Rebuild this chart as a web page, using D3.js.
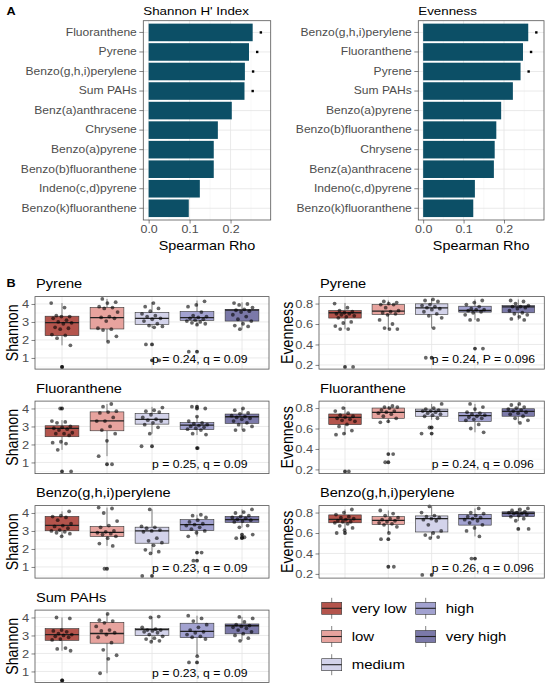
<!DOCTYPE html>
<html>
<head>
<meta charset="utf-8">
<script src="https://cdn.jsdelivr.net/npm/d3@7"></script>
<style>
  body { margin: 0; background: #fff; }
  svg { display: block; }
</style>
</head>
<body>
<div id="chart"></div>
<script>
// ---- panel A: Spearman rho per PAH ----
const pahShannon = ["Fluoranthene", "Pyrene", "Benzo(g,h,i)perylene", "Sum PAHs", "Benz(a)anthracene",
  "Chrysene", "Benzo(a)pyrene", "Benzo(b)fluoranthene", "Indeno(c,d)pyrene", "Benzo(k)fluoranthene"];
const rhoShannon = [0.254, 0.245, 0.235, 0.234, 0.203, 0.169, 0.159, 0.159, 0.125, 0.098];
const sigShannon = [1, 1, 1, 1, 0, 0, 0, 0, 0, 0];

const pahEvenness = ["Benzo(g,h,i)perylene", "Fluoranthene", "Pyrene", "Sum PAHs", "Benzo(a)pyrene",
  "Benzo(b)fluoranthene", "Chrysene", "Benz(a)anthracene", "Indeno(c,d)pyrene", "Benzo(k)fluoranthene"];
const rhoEvenness = [0.260, 0.247, 0.241, 0.222, 0.193, 0.181, 0.177, 0.175, 0.128, 0.124];
const sigEvenness = [1, 1, 1, 0, 0, 0, 0, 0, 0, 0];

const rhoTicks = [0, 0.1, 0.2];
const rhoMinor = [0.05, 0.15, 0.25];

// ---- panel B: diversity by exposure group ----
const groups = ["very low", "low", "medium", "high", "very high"];
const groupColors = ["#b4544c", "#e7a39e", "#d3d3ea", "#a2a2d0", "#7b79a9"];

// box stats: [lower whisker, q1, median, q3, upper whisker]
const shPyreneBox = [[1.7, 2.24, 2.96, 3.32, 4.05], [1.9, 2.61, 3.24, 3.81, 4.28], [2.67, 2.86, 3.2, 3.53, 4.1],
  [2.8, 3.09, 3.24, 3.58, 4.19], [2.58, 3.05, 3.66, 3.7, 4.09]];
const shPyrenePts = [
  [4.05, 3.8, 3.35, 3.3, 3.3, 3.2, 3.1, 3.0, 2.95, 2.9, 2.7, 2.65, 2.6, 2.3, 2.25, 2.1, 1.7, 0.5],
  [4.28, 4.1, 4.05, 3.85, 3.8, 3.75, 3.55, 3.3, 3.25, 3.2, 3.05, 2.65, 2.6, 2.55, 2.2, 1.9],
  [4.05, 3.85, 3.75, 3.6, 3.45, 3.35, 3.3, 3.2, 3.15, 3.05, 2.9, 2.8, 2.75, 2.7, 1.75, 0.87],
  [4.15, 3.95, 3.85, 3.55, 3.35, 3.3, 3.25, 3.2, 3.15, 3.1, 3.05, 3.0, 2.95, 2.9, 2.85, 1.35],
  [4.05, 4.0, 3.95, 3.8, 3.7, 3.65, 3.6, 3.55, 3.4, 3.3, 3.15, 3.05, 2.9, 2.8, 2.75, 2.6]];

const shFluorBox = [[1.7, 2.43, 2.89, 3.04, 3.35], [1.35, 2.76, 3.31, 3.81, 4.25], [2.6, 3.13, 3.39, 3.72, 4.09],
  [2.52, 2.83, 3.07, 3.22, 3.55], [2.8, 3.17, 3.54, 3.69, 4.0]];
const shFluorPts = [
  [4.0, 3.3, 3.25, 3.2, 3.0, 2.95, 2.9, 2.85, 2.8, 2.65, 2.6, 2.6, 2.5, 2.15, 2.1, 2.05, 1.7, 0.5],
  [4.25, 4.1, 3.85, 3.8, 3.75, 3.5, 3.3, 3.3, 3.0, 2.8, 2.6, 2.2, 1.35, 0.9],
  [4.05, 3.9, 3.85, 3.8, 3.65, 3.5, 3.4, 3.35, 3.3, 3.2, 3.1, 2.95, 2.6, 1.9],
  [4.1, 4.0, 3.55, 3.3, 3.2, 3.15, 3.1, 3.05, 3.0, 2.95, 2.9, 2.85, 2.8, 2.6, 2.55, 1.8],
  [4.0, 3.9, 3.75, 3.7, 3.6, 3.55, 3.5, 3.45, 3.4, 3.3, 3.2, 3.1, 3.0, 2.8, 2.8]];

const shBghiBox = [[2.69, 3.01, 3.31, 3.81, 4.09], [2.17, 2.69, 2.92, 3.25, 4.3], [1.75, 2.32, 3.0, 3.21, 4.2],
  [2.69, 3.03, 3.35, 3.63, 3.9], [3.2, 3.48, 3.63, 3.81, 4.2]];
const shBghiPts = [
  [4.09, 3.85, 3.8, 3.75, 3.6, 3.4, 3.3, 3.25, 3.15, 3.05, 3.0, 2.95, 2.9, 2.85, 2.7],
  [4.3, 4.25, 4.0, 3.55, 3.3, 3.2, 3.0, 2.95, 2.9, 2.85, 2.8, 2.7, 2.6, 2.3, 2.17, 0.9],
  [4.2, 3.25, 3.2, 3.15, 3.05, 3.0, 2.95, 2.6, 2.45, 2.35, 2.2, 1.95, 1.85, 1.75, 0.5],
  [3.9, 3.85, 3.75, 3.6, 3.5, 3.4, 3.35, 3.3, 3.2, 3.1, 3.0, 2.9, 2.7, 1.8, 1.35],
  [4.2, 4.05, 4.0, 3.85, 3.8, 3.75, 3.7, 3.65, 3.6, 3.55, 3.5, 3.3, 3.2, 2.8, 2.65, 2.6]];

const shSumBox = [[2.15, 2.73, 3.05, 3.38, 4.0], [0.9, 2.57, 3.11, 3.73, 4.2], [2.65, 3.0, 3.32, 3.38, 4.05],
  [1.85, 2.88, 3.23, 3.68, 4.1], [2.7, 3.09, 3.54, 3.64, 4.03]];
const shSumPts = [
  [4.0, 3.95, 3.3, 3.25, 3.2, 3.1, 3.05, 3.0, 2.95, 2.9, 2.8, 2.75, 2.3, 2.25, 2.15, 0.5],
  [4.2, 3.85, 3.8, 3.7, 3.5, 3.3, 3.25, 3.15, 3.05, 2.9, 2.6, 2.2, 1.9, 1.7, 0.9],
  [4.05, 4.0, 3.45, 3.35, 3.3, 3.3, 3.25, 3.2, 3.15, 3.05, 2.95, 2.85, 2.8, 2.7, 2.65],
  [4.1, 3.95, 3.8, 3.6, 3.45, 3.3, 3.2, 3.15, 3.05, 2.95, 2.9, 2.8, 1.85, 1.5],
  [4.03, 3.95, 3.75, 3.6, 3.55, 3.5, 3.45, 3.4, 3.3, 3.2, 3.1, 3.0, 2.85, 2.7]];

const evPyreneBox = [[0.548, 0.658, 0.71, 0.732, 0.806], [0.548, 0.694, 0.726, 0.79, 0.83], [0.558, 0.694, 0.758, 0.797, 0.845],
  [0.64, 0.716, 0.732, 0.774, 0.84], [0.64, 0.71, 0.768, 0.78, 0.84]];
const evPyrenePts = [
  [0.8, 0.76, 0.73, 0.72, 0.71, 0.70, 0.70, 0.69, 0.68, 0.67, 0.66, 0.62, 0.61, 0.58, 0.55, 0.55, 0.18],
  [0.82, 0.81, 0.8, 0.79, 0.79, 0.76, 0.73, 0.72, 0.71, 0.70, 0.69, 0.64, 0.6, 0.56, 0.55, 0.55],
  [0.84, 0.83, 0.82, 0.79, 0.78, 0.77, 0.76, 0.75, 0.74, 0.72, 0.70, 0.68, 0.66, 0.56, 0.27],
  [0.83, 0.81, 0.79, 0.77, 0.75, 0.74, 0.74, 0.73, 0.72, 0.71, 0.69, 0.64, 0.64, 0.36],
  [0.83, 0.82, 0.8, 0.78, 0.77, 0.77, 0.76, 0.75, 0.73, 0.71, 0.70, 0.69, 0.67, 0.65, 0.64]];

const evFluorBox = [[0.54, 0.638, 0.709, 0.742, 0.81], [0.654, 0.70, 0.758, 0.80, 0.82], [0.686, 0.72, 0.768, 0.79, 0.84],
  [0.563, 0.67, 0.725, 0.758, 0.84], [0.655, 0.72, 0.768, 0.793, 0.84]];
const evFluorPts = [
  [0.80, 0.77, 0.75, 0.73, 0.72, 0.71, 0.70, 0.69, 0.68, 0.67, 0.64, 0.62, 0.58, 0.55, 0.54, 0.18],
  [0.82, 0.81, 0.81, 0.80, 0.78, 0.77, 0.76, 0.75, 0.74, 0.72, 0.70, 0.67, 0.66, 0.35, 0.27],
  [0.84, 0.80, 0.79, 0.78, 0.77, 0.77, 0.76, 0.75, 0.74, 0.73, 0.72, 0.70, 0.61, 0.55],
  [0.84, 0.81, 0.79, 0.76, 0.75, 0.74, 0.73, 0.72, 0.71, 0.70, 0.69, 0.68, 0.64, 0.60, 0.563],
  [0.84, 0.83, 0.81, 0.80, 0.79, 0.78, 0.77, 0.76, 0.75, 0.74, 0.72, 0.70, 0.68, 0.655]];

const evBghiBox = [[0.627, 0.70, 0.733, 0.777, 0.83], [0.60, 0.683, 0.723, 0.76, 0.82], [0.55, 0.61, 0.74, 0.767, 0.86],
  [0.567, 0.677, 0.74, 0.783, 0.84], [0.717, 0.76, 0.793, 0.807, 0.84]];
const evBghiPts = [
  [0.83, 0.8, 0.78, 0.76, 0.75, 0.74, 0.73, 0.72, 0.71, 0.71, 0.70, 0.69, 0.67, 0.65, 0.627, 0.60],
  [0.82, 0.79, 0.77, 0.75, 0.74, 0.73, 0.72, 0.71, 0.70, 0.69, 0.68, 0.66, 0.60, 0.54, 0.27],
  [0.86, 0.80, 0.77, 0.76, 0.75, 0.74, 0.73, 0.72, 0.68, 0.62, 0.60, 0.58, 0.56, 0.55, 0.19],
  [0.84, 0.80, 0.79, 0.77, 0.76, 0.75, 0.74, 0.73, 0.72, 0.70, 0.68, 0.65, 0.62, 0.567, 0.35],
  [0.84, 0.83, 0.82, 0.81, 0.80, 0.80, 0.79, 0.79, 0.78, 0.77, 0.76, 0.74, 0.72, 0.64]];

const shannonTicks = [1, 2, 3, 4];
const shannonMinor = [0.5, 1.5, 2.5, 3.5];
const evennessTicks = [0.2, 0.4, 0.6, 0.8];
const evennessMinor = [0.3, 0.5, 0.7];

const shannonTitles = ["Pyrene", "Fluoranthene", "Benzo(g,h,i)perylene", "Sum PAHs"];
const shannonStats = ["p = 0.24, q = 0.09", "p = 0.25, q = 0.09", "p = 0.23, q = 0.09", "p = 0.23, q = 0.09"];
const evennessTitles = ["Pyrene", "Fluoranthene", "Benzo(g,h,i)perylene"];
const evennessStats = ["p = 0.24, P = 0.096", "p = 0.24, q = 0.096", "p = 0.26, q = 0.096"];

// ---- layout ----
const W = 550, H = 690;
const SX = 1.15; // the source figure is a bit wider than tall
const FONT = '"Liberation Sans", Arial, Helvetica, sans-serif';
const A_TOP = 20.7, A_BOT = 220;
const B_TOP = 296.6, B_STEP = 104.5, B_H = 72.5;
const B_LEFT = { x0: 35, x1: 269, titleX: 18.3 }, B_RIGHT = { x0: 319, x1: 544.3, titleX: 293.3 };

const svg = d3.select("#chart").append("svg")
  .attr("width", W).attr("height", H)
  .style("font-family", FONT);

svg.append("rect").attr("width", W).attr("height", H).attr("fill", "#fff");

function label(g, x, y, str, size, opt = {}) {
  return g.append("text")
    .attr("transform", `translate(${x},${y}) scale(${SX},1)`)
    .attr("font-size", size)
    .attr("fill", opt.fill || "#000")
    .attr("font-weight", opt.weight || "normal")
    .attr("text-anchor", opt.anchor || "start")
    .text(str);
}

function vlabel(g, x, y, str, size) {
  return g.append("text")
    .attr("transform", `translate(${x},${y}) rotate(-90) scale(1,${SX})`)
    .attr("font-size", size)
    .attr("text-anchor", "middle")
    .text(str);
}

function styleAxis(ax, size, dx) {
  ax.attr("font-family", FONT).attr("font-size", size);
  ax.select(".domain").remove();
  ax.selectAll(".tick line").attr("stroke", "#333").attr("stroke-width", 0.6);
  ax.selectAll(".tick text").attr("fill", "#4d4d4d")
    .attr("transform", `scale(${SX},1)`);
  if (dx !== undefined) ax.selectAll(".tick text").attr("x", dx / SX);
}

// ---- A: bar panels ----
function drawBars(x0, x1, domain, names, rho, sig, title) {
  const x = d3.scaleLinear().domain(domain).range([x0, x1]);
  const y = d3.scaleBand().domain(names).range([A_TOP, A_BOT])
    .paddingInner(0.1).paddingOuter(0.15);
  const g = svg.append("g");

  g.selectAll(".minor").data(rhoMinor).join("line")
    .attr("x1", d => x(d)).attr("x2", d => x(d))
    .attr("y1", A_TOP).attr("y2", A_BOT)
    .attr("stroke", "#f0f0f0").attr("stroke-width", 0.5);
  g.selectAll(".majorx").data(rhoTicks).join("line")
    .attr("x1", d => x(d)).attr("x2", d => x(d))
    .attr("y1", A_TOP).attr("y2", A_BOT)
    .attr("stroke", "#e4e4e4").attr("stroke-width", 0.8);
  g.selectAll(".majory").data(names).join("line")
    .attr("x1", x0).attr("x2", x1)
    .attr("y1", d => y(d) + y.bandwidth() / 2).attr("y2", d => y(d) + y.bandwidth() / 2)
    .attr("stroke", "#e4e4e4").attr("stroke-width", 0.8);

  g.selectAll(".bar").data(names).join("rect")
    .attr("x", x(0))
    .attr("y", d => y(d))
    .attr("width", (d, i) => x(rho[i]) - x(0))
    .attr("height", y.bandwidth())
    .attr("fill", "#0c4f66");

  g.selectAll(".sig").data(names.filter((d, i) => sig[i])).join("rect")
    .attr("x", d => x(rho[names.indexOf(d)] + 0.02) - 1.2)
    .attr("y", d => y(d) + y.bandwidth() / 2 - 1.2)
    .attr("width", 2.4).attr("height", 2.4)
    .attr("fill", "#000");

  g.append("rect").attr("x", x0).attr("y", A_TOP)
    .attr("width", x1 - x0).attr("height", A_BOT - A_TOP)
    .attr("fill", "none").attr("stroke", "#555").attr("stroke-width", 0.8);

  const ay = g.append("g").attr("transform", `translate(${x0},0)`)
    .call(d3.axisLeft(y).tickSize(4).tickPadding(2));
  styleAxis(ay, 10.5, -6.5);

  const ax = g.append("g").attr("transform", `translate(0,${A_BOT})`)
    .call(d3.axisBottom(x).tickValues(rhoTicks).tickFormat(d3.format(".1f")).tickSize(3.5).tickPadding(2));
  styleAxis(ax, 10.8);

  label(g, x0, 14.5, title, 11.6);
  label(g, (x0 + x1) / 2, 249.5, "Spearman Rho", 12.5, { anchor: "middle" });
}

label(svg, 6.5, 15, "A", 11, { weight: "bold" });
drawBars(143.3, 270.7, [-0.013, 0.298], pahShannon, rhoShannon, sigShannon, "Shannon H' Index");
drawBars(418.3, 544.0, [-0.012, 0.299], pahEvenness, rhoEvenness, sigEvenness, "Evenness");

// ---- B: box plot panels ----
function jitter(i, k) {
  const u = ((i * 0.6180339887 + k * 0.283) % 1);
  return (u - 0.5) * 2 * 0.24;
}

function drawBoxPanel(col, row, title, yTitle, domain, ticks, minor, fmt, box, pts, stat) {
  const x0 = col.x0, x1 = col.x1;
  const y0 = B_TOP + row * B_STEP, y1 = y0 + B_H;
  const x = d3.scaleBand().domain(groups).range([x0, x1]).paddingInner(0.25).paddingOuter(0.225);
  const y = d3.scaleLinear().domain(domain).range([y1, y0]);
  const step = x.step();
  const cx = d => x(d) + x.bandwidth() / 2;
  const g = svg.append("g");

  g.selectAll(".minor").data(minor).join("line")
    .attr("x1", x0).attr("x2", x1).attr("y1", d => y(d)).attr("y2", d => y(d))
    .attr("stroke", "#f0f0f0").attr("stroke-width", 0.5);
  g.selectAll(".majory").data(ticks).join("line")
    .attr("x1", x0).attr("x2", x1).attr("y1", d => y(d)).attr("y2", d => y(d))
    .attr("stroke", "#e4e4e4").attr("stroke-width", 0.8);
  g.selectAll(".majorx").data(groups).join("line")
    .attr("x1", cx).attr("x2", cx).attr("y1", y0).attr("y2", y1)
    .attr("stroke", "#e4e4e4").attr("stroke-width", 0.8);

  const bg = g.selectAll(".box").data(groups).join("g");
  bg.append("line")
    .attr("x1", cx).attr("x2", cx)
    .attr("y1", (d, i) => y(box[i][4])).attr("y2", (d, i) => y(box[i][3]))
    .attr("stroke", "#333").attr("stroke-width", 0.6);
  bg.append("line")
    .attr("x1", cx).attr("x2", cx)
    .attr("y1", (d, i) => y(box[i][1])).attr("y2", (d, i) => y(box[i][0]))
    .attr("stroke", "#333").attr("stroke-width", 0.6);
  bg.append("rect")
    .attr("x", d => x(d)).attr("width", x.bandwidth())
    .attr("y", (d, i) => y(box[i][3]))
    .attr("height", (d, i) => y(box[i][1]) - y(box[i][3]))
    .attr("fill", (d, i) => groupColors[i])
    .attr("stroke", "#333").attr("stroke-width", 0.6);
  bg.append("line")
    .attr("x1", d => x(d)).attr("x2", d => x(d) + x.bandwidth())
    .attr("y1", (d, i) => y(box[i][2])).attr("y2", (d, i) => y(box[i][2]))
    .attr("stroke", "#222").attr("stroke-width", 1.3);

  // outliers drawn by the box plot at the group centre
  const outl = [];
  groups.forEach((gr, i) => pts[i].forEach(v => {
    if (v < box[i][0] || v > box[i][4]) outl.push({ gr, v });
  }));
  g.selectAll(".out").data(outl).join("circle")
    .attr("cx", d => cx(d.gr)).attr("cy", d => y(d.v)).attr("r", 1.9)
    .attr("fill", "#111").attr("fill-opacity", 0.8);

  // jittered samples
  const jit = [];
  groups.forEach((gr, i) => pts[i].forEach((v, j) => jit.push({ gr, v, j, k: i + row * 5 })));
  g.selectAll(".pt").data(jit).join("circle")
    .attr("cx", d => cx(d.gr) + jitter(d.j, d.k) * step)
    .attr("cy", d => y(d.v)).attr("r", 1.9)
    .attr("fill", "#000").attr("fill-opacity", 0.6);

  label(g, cx(groups[2]), y1 - 5.8, stat, 10.6);

  g.append("rect").attr("x", x0).attr("y", y0)
    .attr("width", x1 - x0).attr("height", B_H)
    .attr("fill", "none").attr("stroke", "#555").attr("stroke-width", 0.8);

  const ay = g.append("g").attr("transform", `translate(${x0},0)`)
    .call(d3.axisLeft(y).tickValues(ticks).tickFormat(fmt).tickSize(3.5).tickPadding(2));
  styleAxis(ay, 11.2, -5.8);

  label(g, x0 + 1, y0 - 8.3, title, 12.7);
  vlabel(g, col.titleX, (y0 + y1) / 2, yTitle, 14.2);
}

label(svg, 6.5, 287, "B", 11, { weight: "bold" });

const shannonBoxes = [shPyreneBox, shFluorBox, shBghiBox, shSumBox];
const shannonPts = [shPyrenePts, shFluorPts, shBghiPts, shSumPts];
shannonTitles.forEach((t, r) => drawBoxPanel(B_LEFT, r, t, "Shannon", [0.38, 4.41],
  shannonTicks, shannonMinor, d3.format("d"), shannonBoxes[r], shannonPts[r], shannonStats[r]));

const evennessBoxes = [evPyreneBox, evFluorBox, evBghiBox];
const evennessPts = [evPyrenePts, evFluorPts, evBghiPts];
evennessTitles.forEach((t, r) => drawBoxPanel(B_RIGHT, r, t, "Evenness", [0.159, 0.868],
  evennessTicks, evennessMinor, d3.format(".1f"), evennessBoxes[r], evennessPts[r], evennessStats[r]));

// ---- legend ----
const legendCols = [321.7, 415.7];
const legendRows = [608.3, 636.5, 664.7];
const legendPos = [[0, 0], [0, 1], [0, 2], [1, 0], [1, 1]];
const lg = svg.append("g");
const keys = lg.selectAll(".key").data(groups).join("g")
  .attr("transform", (d, i) => `translate(${legendCols[legendPos[i][0]]},${legendRows[legendPos[i][1]]})`);
keys.append("line").attr("x1", 10).attr("x2", 10).attr("y1", -10.5).attr("y2", 10.5)
  .attr("stroke", "#333").attr("stroke-width", 0.6);
keys.append("rect").attr("x", 0).attr("y", -6).attr("width", 20).attr("height", 12)
  .attr("fill", (d, i) => groupColors[i]).attr("stroke", "#333").attr("stroke-width", 0.6);
keys.append("line").attr("x1", 0).attr("x2", 20).attr("y1", 0).attr("y2", 0)
  .attr("stroke", "#222").attr("stroke-width", 1.1);
keys.each(function (d) {
  label(d3.select(this), 30, 4.6, d, 13);
});
</script>
</body>
</html>
